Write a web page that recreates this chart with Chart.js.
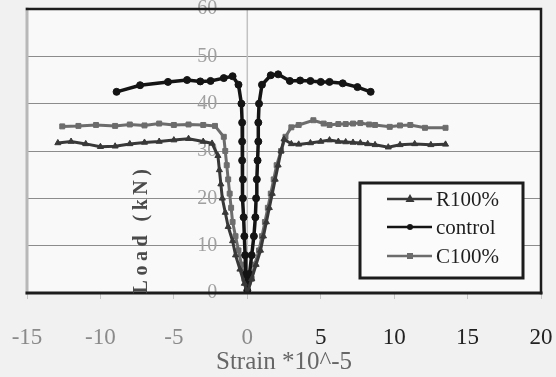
<!DOCTYPE html>
<html>
<head>
<meta charset="utf-8">
<script src="https://cdn.jsdelivr.net/npm/chart.js@4/dist/chart.umd.min.js"></script>
<style>
  html, body { margin: 0; padding: 0; background: #f1f1f1; }
  #wrap { width: 556px; height: 377px; position: relative; }
</style>
</head>
<body>
<div id="wrap"><canvas id="chart" width="556" height="377"></canvas></div>
<script>
// data: strain (*10^-5) vs load (kN)
const xTicks = [-15, -10, -5, 0, 5, 10, 15, 20];
const yTicks = [0, 10, 20, 30, 40, 50, 60];
const seriesNames = ['R100%', 'control', 'C100%'];

const r100Strain = [-12.9, -12, -11, -10, -9, -8, -7, -6, -5, -4, -3, -2.4, -2.0, -1.9, -1.8, -1.7, -1.5, -1.3, -1.0, -0.8, -0.5, -0.2, 0,
  0.3, 0.6, 0.9, 1.1, 1.3, 1.5, 1.7, 1.9, 2.1, 2.3, 2.5, 3.0, 3.5, 4.3, 5.0, 5.6, 6.2, 6.7, 7.2, 7.7, 8.2, 8.7, 9.6, 10.4, 11.4, 12.5, 13.5];
const r100Load = [31.7, 32, 31.5, 30.9, 31, 31.5, 31.8, 32, 32.3, 32.6, 32, 31.6, 29, 26, 23, 20, 17, 14, 11, 8, 5, 2, 0,
  3, 6, 9, 12, 15, 18, 21, 24, 27, 30, 32.5, 31.5, 31.4, 31.7, 32, 32.3, 32, 31.9, 31.8, 31.7, 31.5, 31.3, 30.8, 31.3, 31.5, 31.3, 31.4];

const controlStrain = [-8.9, -7.3, -5.4, -4.1, -3.2, -2.5, -1.6, -1.0, -0.6, -0.4, -0.35, -0.35, -0.35, -0.3, -0.3, -0.25, -0.2, -0.15, -0.1, 0,
  0.15, 0.3, 0.45, 0.55, 0.6, 0.65, 0.7, 0.75, 0.75, 0.8, 1.0, 1.6, 2.1, 2.9, 3.6, 4.3, 5.0, 5.6, 6.5, 7.5, 8.4];
const controlLoad = [42.5, 43.9, 44.6, 45.0, 44.7, 44.8, 45.4, 45.8, 44.0, 40, 36, 32, 28, 24, 20, 16, 12, 8, 4, 0.5,
  4, 8, 12, 16, 20, 24, 28, 32, 36, 40, 44, 46, 46.2, 44.8, 44.9, 44.8, 44.6, 44.6, 44.3, 43.5, 42.5];

const c100Strain = [-12.6, -11.5, -10.3, -9, -8, -7, -6, -5, -4, -3, -2.2, -1.6, -1.5, -1.4, -1.3, -1.2, -1.1, -1.0, -0.8, -0.6, -0.4, -0.2, 0,
  0.3, 0.5, 0.8, 1.0, 1.2, 1.4, 1.6, 1.8, 2.0, 2.3, 2.6, 3.0, 3.5, 4.5, 5.2, 5.6, 6.2, 6.7, 7.2, 7.7, 8.3, 8.7, 9.7, 10.4, 11.1, 12.1, 13.5];
const c100Load = [35.2, 35.3, 35.5, 35.3, 35.6, 35.4, 35.8, 35.5, 35.6, 35.5, 35.3, 33, 30, 27, 24, 21, 18, 15, 12, 9, 6, 3, 0,
  3, 6, 9, 12, 15, 18, 21, 24, 27, 30, 33, 35, 35.5, 36.5, 35.8, 35.5, 35.7, 35.7, 35.8, 35.9, 35.6, 35.5, 35.1, 35.4, 35.5, 34.9, 34.9];

const colors = ['#383838', '#141414', '#6c6c6c'];
const markers = ['triangle', 'circle', 'rect'];

function pairs(xs, ys) { return xs.map((x, i) => ({ x: x, y: ys[i] })); }

const datasets = [
  { label: seriesNames[0], data: pairs(r100Strain, r100Load) },
  { label: seriesNames[1], data: pairs(controlStrain, controlLoad) },
  { label: seriesNames[2], data: pairs(c100Strain, c100Load) }
].map((d, i) => Object.assign(d, {
  showLine: true,
  borderColor: colors[i],
  backgroundColor: colors[i],
  borderWidth: i === 1 ? 3.5 : 3,
  pointStyle: markers[i],
  pointRadius: 3.5,
  pointBorderWidth: 1,
  tension: 0
}));

const SERIF = '"Liberation Serif", "DejaVu Serif", serif';

// plot background, zero axis, frame and y title
const framePlugin = {
  id: 'frame',
  beforeDraw(chart) {
    const a = chart.chartArea, ctx = chart.ctx;
    ctx.save();
    ctx.fillStyle = '#f9f9f9';
    ctx.fillRect(a.left, a.top, a.right - a.left, a.bottom - a.top);
    ctx.restore();
  },
  beforeDatasetsDraw(chart) {
    const a = chart.chartArea, ctx = chart.ctx;
    const x0 = chart.scales.x.getPixelForValue(0);
    ctx.save();
    ctx.strokeStyle = '#c2c2c2'; ctx.lineWidth = 1.5;
    ctx.beginPath(); ctx.moveTo(x0, a.top); ctx.lineTo(x0, a.bottom); ctx.stroke();
    ctx.restore();
  },
  afterDatasetsDraw(chart) {
    const a = chart.chartArea, ctx = chart.ctx;
    ctx.save();
    ctx.lineCap = 'square';
    ctx.strokeStyle = '#b8b8b8'; ctx.lineWidth = 3;
    ctx.beginPath(); ctx.moveTo(a.left, a.top); ctx.lineTo(a.left, a.bottom); ctx.stroke();
    ctx.strokeStyle = '#1c1c1c'; ctx.lineWidth = 2.5;
    ctx.beginPath(); ctx.moveTo(a.left, a.top); ctx.lineTo(a.right, a.top); ctx.lineTo(a.right, a.bottom); ctx.stroke();
    ctx.lineWidth = 3;
    ctx.beginPath(); ctx.moveTo(a.left, a.bottom); ctx.lineTo(a.right, a.bottom); ctx.stroke();
    // y axis title sits far left of the zero axis
    ctx.translate(142, 229);
    ctx.rotate(-Math.PI / 2);
    ctx.font = 'bold 20px ' + SERIF;
    ctx.letterSpacing = '4.5px';
    ctx.fillStyle = '#4a4a4a';
    ctx.textAlign = 'center';
    ctx.textBaseline = 'middle';
    ctx.fillText('Load (kN)', 0, 0);
    ctx.restore();
  }
};

// boxed legend inside the plot
const legendPlugin = {
  id: 'boxLegend',
  afterDraw(chart) {
    const ctx = chart.ctx;
    const bx = 360, by = 183, bw = 163, bh = 95;
    ctx.save();
    ctx.fillStyle = '#fbfbfb';
    ctx.fillRect(bx, by, bw, bh);
    ctx.strokeStyle = '#1c1c1c'; ctx.lineWidth = 3;
    ctx.strokeRect(bx, by, bw, bh);
    const rows = [199, 227, 256];
    ctx.font = '21px ' + SERIF;
    ctx.textBaseline = 'middle';
    seriesNames.forEach((name, i) => {
      const y = rows[i];
      ctx.strokeStyle = colors[i]; ctx.lineWidth = 2.5;
      ctx.beginPath(); ctx.moveTo(387, y); ctx.lineTo(432, y); ctx.stroke();
      ctx.fillStyle = colors[i];
      if (markers[i] === 'triangle') {
        ctx.beginPath(); ctx.moveTo(410, y - 5); ctx.lineTo(414.5, y + 3); ctx.lineTo(405.5, y + 3); ctx.closePath(); ctx.fill();
      } else if (markers[i] === 'circle') {
        ctx.beginPath(); ctx.arc(410, y, 3, 0, Math.PI * 2); ctx.fill();
      } else {
        ctx.fillRect(407, y - 3, 6, 6);
      }
      ctx.fillStyle = '#1e1e1e';
      ctx.fillText(name, 436, y + 1);
    });
    ctx.restore();
  }
};

new Chart(document.getElementById('chart'), {
  type: 'scatter',
  data: { datasets: datasets },
  options: {
    responsive: false,
    animation: false,
    events: [],
    layout: { padding: { left: 27, right: 15, top: 9, bottom: 0 } },
    plugins: { legend: { display: false }, tooltip: { enabled: false } },
    scales: {
      x: {
        type: 'linear',
        min: xTicks[0], max: xTicks[xTicks.length - 1],
        afterBuildTicks(scale) { scale.ticks = xTicks.map(v => ({ value: v })); },
        afterFit(scale) { scale.height = 84; scale.paddingLeft = 0; scale.paddingRight = 0; },
        grid: { drawOnChartArea: false, drawTicks: true, tickLength: 6, color: '#c4c4c4' },
        border: { display: false },
        ticks: {
          padding: 25,
          maxRotation: 0,
          font: { family: SERIF, size: 23 },
          color: ctx => (ctx.tick && ctx.tick.value <= 0 ? '#8a8a8a' : '#222')
        },
        title: {
          display: true,
          text: 'Strain *10^-5',
          font: { family: SERIF, size: 25 },
          color: '#666',
          padding: { top: 0, bottom: 0 }
        }
      },
      y: {
        type: 'linear',
        position: { x: 0 },
        min: yTicks[0], max: yTicks[yTicks.length - 1],
        afterBuildTicks(scale) { scale.ticks = yTicks.map(v => ({ value: v })); },
        afterFit(scale) { scale.paddingTop = 0; scale.paddingBottom = 0; },
        grid: { color: '#8c8c8c', lineWidth: 1, drawTicks: false },
        border: { display: false },
        ticks: {
          // centred axis ignores padding, so pad the label with spaces
          callback: v => v + '\u2003\u2002',
          font: { family: SERIF, size: 20 },
          color: '#a0a0a0'
        }
      }
    }
  },
  plugins: [framePlugin, legendPlugin]
});
</script>
</body>
</html>
